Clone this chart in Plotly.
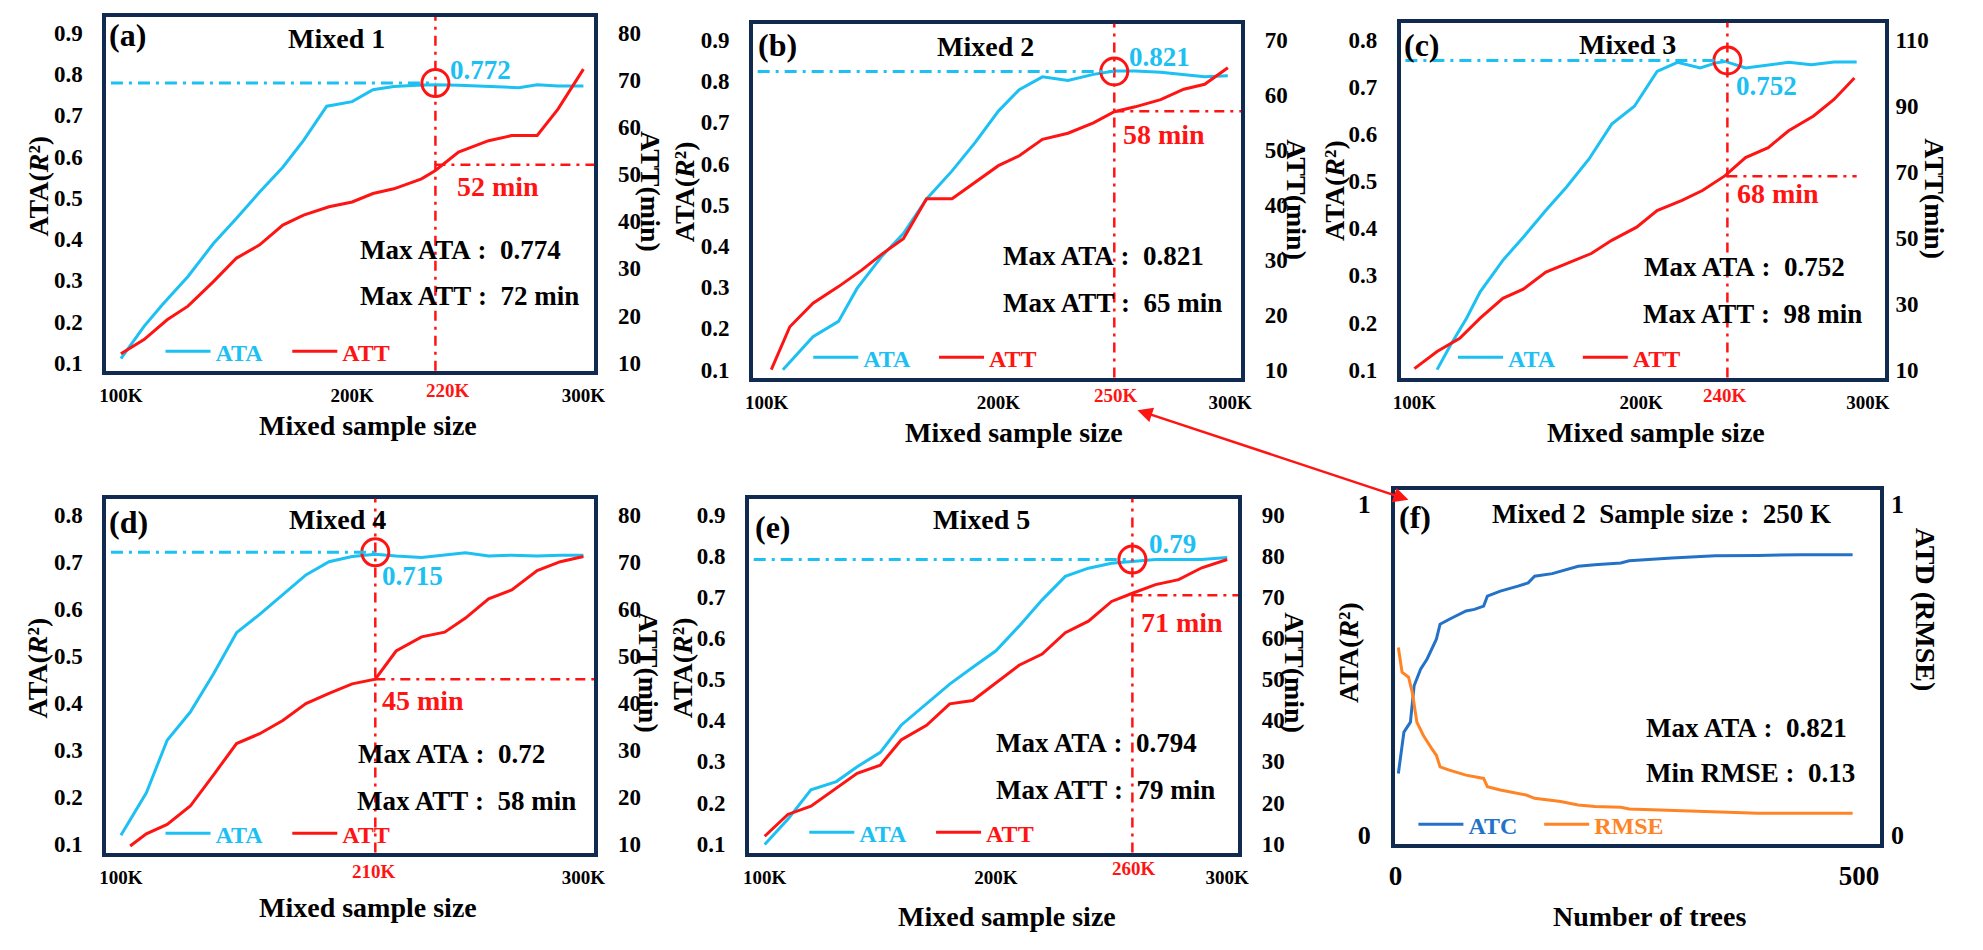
import plotly.graph_objects as go

# ---------------- data ----------------
PANEL_TAGS = ["(a)", "(b)", "(c)", "(d)", "(e)", "(f)"]
PANEL_TITLES = ["Mixed 1", "Mixed 2", "Mixed 3", "Mixed 4", "Mixed 5",
                "Mixed 2\u00a0\u00a0Sample size :\u00a0\u00a0250 K"]

# (a) Mixed 1
A_ATA_X = [100, 110, 118, 129, 140, 150, 160, 170, 179, 189, 192, 200, 209, 218, 228, 236, 246, 256, 267, 272, 280, 289, 300]
A_ATA = [0.110, 0.188, 0.241, 0.309, 0.389, 0.450, 0.514, 0.574, 0.639, 0.722, 0.725, 0.733, 0.762, 0.770, 0.773, 0.774, 0.773, 0.771, 0.767, 0.767, 0.774, 0.771, 0.771]
A_ATT_X = [100, 110, 120, 129, 140, 150, 160, 170, 179, 190, 200, 209, 218, 230, 236, 246, 259, 269, 280, 289, 300]
A_ATT = [11.9, 14.9, 19.1, 22.0, 27.2, 32.2, 35.0, 39.2, 41.3, 43.1, 44.1, 45.9, 46.9, 49.0, 50.8, 54.7, 57.1, 58.2, 58.2, 63.8, 72.3]

# (b) Mixed 2
B_ATA_X = [107, 120, 131, 139, 150, 159, 169, 180, 190, 200, 209, 219, 230, 241, 250, 259, 270, 280, 289, 299]
B_ATA = [0.100, 0.180, 0.217, 0.297, 0.377, 0.430, 0.514, 0.582, 0.651, 0.727, 0.779, 0.810, 0.801, 0.816, 0.824, 0.824, 0.821, 0.816, 0.810, 0.813]
B_ATT_X = [102, 110, 120, 131, 141, 150, 159, 169, 180, 190, 200, 209, 219, 230, 241, 250, 259, 270, 280, 289, 299]
B_ATT = [10.0, 17.8, 22.1, 25.1, 28.1, 31.1, 33.8, 41.1, 41.1, 44.1, 47.1, 48.9, 51.9, 53.0, 54.9, 56.9, 57.8, 59.1, 61.0, 61.9, 64.9]

# (c) Mixed 3
C_ATA_X = [110, 116, 123, 129, 139, 148, 158, 167, 177, 187, 197, 207, 216, 226, 233, 237, 246, 256, 265, 275, 285, 295]
C_ATA = [0.100, 0.153, 0.209, 0.265, 0.332, 0.381, 0.438, 0.487, 0.547, 0.621, 0.659, 0.733, 0.752, 0.740, 0.751, 0.754, 0.740, 0.747, 0.752, 0.747, 0.753, 0.753]
C_ATT_X = [100, 110, 120, 129, 139, 148, 158, 167, 178, 187, 198, 207, 218, 227, 237, 246, 256, 265, 276, 285, 294]
C_ATT = [10.3, 15.5, 19.5, 25.6, 31.6, 34.4, 39.6, 42.2, 45.2, 49.2, 53.2, 58.2, 61.3, 64.3, 68.8, 74.3, 77.3, 82.4, 86.9, 91.9, 98.4]

# (d) Mixed 4
D_ATA_X = [100, 111, 120, 130, 140, 150, 160, 170, 180, 190, 200, 210, 219, 230, 239, 249, 259, 269, 280, 290, 300]
D_ATA = [0.118, 0.208, 0.320, 0.380, 0.461, 0.549, 0.588, 0.630, 0.672, 0.700, 0.711, 0.716, 0.712, 0.709, 0.713, 0.719, 0.712, 0.714, 0.712, 0.714, 0.714]
D_ATT_X = [104, 111, 120, 130, 140, 150, 160, 170, 180, 190, 200, 210, 219, 230, 240, 249, 259, 269, 280, 290, 300]
D_ATT = [9.5, 12.1, 14.1, 18.0, 24.6, 31.3, 33.4, 36.2, 39.8, 42.0, 44.0, 45.0, 51.0, 54.0, 55.0, 58.0, 62.1, 64.0, 68.1, 70.0, 71.1]

# (e) Mixed 5
E_X = [100, 110, 120, 131, 140, 150, 159, 170, 180, 190, 200, 210, 220, 230, 240, 250, 259, 269, 279, 289, 300]
E_ATA = [0.098, 0.159, 0.231, 0.251, 0.287, 0.322, 0.388, 0.440, 0.488, 0.529, 0.569, 0.629, 0.693, 0.750, 0.770, 0.782, 0.787, 0.791, 0.791, 0.791, 0.796]
E_ATT = [11.8, 17.1, 19.1, 23.5, 27.1, 29.1, 35.2, 38.8, 44.0, 44.8, 49.2, 53.4, 56.1, 61.3, 64.1, 68.9, 70.9, 73.0, 74.2, 77.1, 79.1]

# (f) Mixed 2, 250 K samples, vs number of trees
F_ATC_X = [3, 9, 16, 20, 27, 34, 44, 48, 58, 76, 85, 95, 99, 113, 132, 143, 150, 169, 197, 215, 243, 252, 298, 345, 391, 437, 493]
F_ATC = [0.185, 0.310, 0.340, 0.450, 0.500, 0.531, 0.591, 0.636, 0.651, 0.676, 0.681, 0.691, 0.721, 0.736, 0.751, 0.761, 0.781, 0.789, 0.811, 0.816, 0.821, 0.828, 0.836, 0.843, 0.844, 0.846, 0.846]
F_RMSE_X = [3, 7, 14, 18, 23, 30, 39, 44, 48, 58, 76, 95, 99, 113, 141, 150, 178, 197, 215, 243, 252, 298, 345, 391, 493]
F_RMSE = [0.566, 0.491, 0.476, 0.430, 0.340, 0.300, 0.260, 0.240, 0.205, 0.195, 0.180, 0.170, 0.145, 0.135, 0.120, 0.110, 0.100, 0.090, 0.085, 0.083, 0.078, 0.073, 0.070, 0.065, 0.065]

# optimum markers (panels a-e)
OPT_SIZE = [236, 250, 238, 210, 259]
OPT_SIZE_LABEL = ["220K", "250K", "240K", "210K", "260K"]
OPT_ATA = [0.778, 0.823, 0.756, 0.720, 0.791]
OPT_ATA_LABEL = ["0.772", "0.821", "0.752", "0.715", "0.79"]
OPT_ATT = [52.0, 57.0, 68.6, 45.0, 70.4]
OPT_ATT_LABEL = ["52 min", "58 min", "68 min", "45 min", "71 min"]
ATT_LINE_END = [None, None, 295, None, None]

MAX_ATA_LABEL = ["0.774", "0.821", "0.752", "0.72", "0.794", "0.821"]
MAX_ATT_LABEL = ["72 min", "65 min", "98 min", "58 min", "79 min"]
MIN_RMSE_LABEL = "0.13"

# tick labels
X_TICKS = [[100, 200, 300], [100, 200, 300], [100, 200, 300], [100, 300], [100, 200, 300], [0, 500]]
X_TICK_TEXT = [["100K", "200K", "300K"], ["100K", "200K", "300K"], ["100K", "200K", "300K"],
               ["100K", "300K"], ["100K", "200K", "300K"], ["0", "500"]]
YL_TICKS = [[0.1, 0.2, 0.3, 0.4, 0.5, 0.6, 0.7, 0.8, 0.9],
            [0.1, 0.2, 0.3, 0.4, 0.5, 0.6, 0.7, 0.8, 0.9],
            [0.1, 0.2, 0.3, 0.4, 0.5, 0.6, 0.7, 0.8],
            [0.1, 0.2, 0.3, 0.4, 0.5, 0.6, 0.7, 0.8],
            [0.1, 0.2, 0.3, 0.4, 0.5, 0.6, 0.7, 0.8, 0.9],
            [0, 1]]
YR_TICKS = [[10, 20, 30, 40, 50, 60, 70, 80],
            [10, 20, 30, 40, 50, 60, 70],
            [10, 30, 50, 70, 90, 110],
            [10, 20, 30, 40, 50, 60, 70, 80],
            [10, 20, 30, 40, 50, 60, 70, 80, 90],
            [0, 1]]

# ---------------- styling / layout (pixels of the 1983x950 page) ----------------
W, H = 1983, 950
FONT = "Liberation Serif"
NAVY = "#112B50"
CYAN = "#1CC0F2"
RED = "#FF1414"
BLUE = "#2472C8"
ORANGE = "#FF8426"

BOXES = [(99, 592, 17, 373), (752, 1245, 24, 380), (1406, 1895, 23, 380),
         (99, 592, 502, 858), (748, 1242, 502, 858), (1400, 1890, 493, 849)]
X_CAL = [(114, 581), (766, 1234), (1420, 1878), (114, 581), (764, 1231), (1401, 1869)]
Y_CAL = [(365, 33), (372, 40), (372, 40), (849, 518), (849, 518), (840, 507)]
YR_GAP = [18, 18, 5, 18, 18, 5]
# legend text start (series 1, series 2) and centre y
LEG_TEXT = [(215, 343, 354), (869, 996, 360), (1520, 1646, 360),
            (215, 343, 839), (865, 993, 838), (1480, 1607, 830)]
ITEMW = 45

SERIES = [
    (A_ATA_X, A_ATA, A_ATT_X, A_ATT),
    (B_ATA_X, B_ATA, B_ATT_X, B_ATT),
    (C_ATA_X, C_ATA, C_ATT_X, C_ATT),
    (D_ATA_X, D_ATA, D_ATT_X, D_ATT),
    (E_X, E_ATA, E_X, E_ATT),
    (F_ATC_X, F_ATC, F_RMSE_X, F_RMSE),
]
SERIES_NAMES = [("ATA", "ATT")] * 5 + [("ATC", "RMSE")]
SERIES_COLORS = [(CYAN, RED)] * 5 + [(BLUE, ORANGE)]


def lin_range(p_lo, p_hi, v1, p1, v2, p2):
    s = (v2 - v1) / (p2 - p1)
    return [v1 + (p_lo - p1) * s, v1 + (p_hi - p1) * s]


def font(size, color="black"):
    return dict(family=FONT, size=size, color=color, weight="bold")


def ann(x, y, text, size=27, color="black", xanchor="center", angle=0):
    return dict(x=x / W, y=1 - y / H, xref="paper", yref="paper", text=text,
                showarrow=False, font=font(size, color), xanchor=xanchor,
                yanchor="middle", textangle=angle)


def legend_box(text_x, y, color):
    return dict(x=(text_x - ITEMW - 16) / W, y=1 - y / H, xanchor="left", yanchor="middle",
                orientation="h", bgcolor="rgba(0,0,0,0)", font=font(24, color),
                itemwidth=ITEMW, tracegroupgap=0)


fig = go.Figure()
layout = dict(width=W, height=H, margin=dict(l=0, r=0, t=0, b=0),
              paper_bgcolor="white", plot_bgcolor="white",
              font=font(20), showlegend=True)
shapes, annotations = [], []

for i in range(6):
    L, R, T, B = BOXES[i]
    xid = "x" if i == 0 else f"x{i + 1}"
    yl_n, yr_n = 2 * i + 1, 2 * i + 2
    ylid = "y" if yl_n == 1 else f"y{yl_n}"
    yrid = f"y{yr_n}"
    lid1 = "legend" if i == 0 else f"legend{2 * i + 1}"
    lid2 = f"legend{2 * i + 2}"
    xkey = "xaxis" if i == 0 else f"xaxis{i + 1}"
    ylkey = "yaxis" if yl_n == 1 else f"yaxis{yl_n}"
    yrkey = f"yaxis{yr_n}"

    xr = lin_range(L, R, X_TICKS[i][0], X_CAL[i][0], X_TICKS[i][-1], X_CAL[i][1])
    ylr = lin_range(B, T, YL_TICKS[i][0], Y_CAL[i][0], YL_TICKS[i][-1], Y_CAL[i][1])
    yrr = lin_range(B, T, YR_TICKS[i][0], Y_CAL[i][0], YR_TICKS[i][-1], Y_CAL[i][1])

    xfs = 27 if i == 5 else 19
    yfs = 26 if i == 5 else 23
    layout[xkey] = dict(domain=[L / W, R / W], anchor=ylid, range=xr, tickvals=X_TICKS[i],
                        ticktext=X_TICK_TEXT[i], showline=True, mirror=True, linecolor=NAVY,
                        linewidth=3.5, showgrid=False, zeroline=False, ticks="outside",
                        ticklen=5, tickcolor="rgba(0,0,0,0)", tickfont=font(xfs))
    layout[ylkey] = dict(domain=[1 - B / H, 1 - T / H], anchor=xid, range=ylr,
                         tickvals=YL_TICKS[i], tickformat="d" if i == 5 else ".1f",
                         showline=True, mirror=True, linecolor=NAVY, linewidth=3.5,
                         showgrid=False, zeroline=False, ticks="outside", ticklen=15,
                         tickcolor="rgba(0,0,0,0)", tickfont=font(yfs))
    layout[yrkey] = dict(overlaying=ylid, side="right", anchor=xid, range=yrr,
                         tickvals=YR_TICKS[i], tickformat="d", showline=False,
                         showgrid=False, zeroline=False, ticks="outside", ticklen=YR_GAP[i],
                         tickcolor="rgba(0,0,0,0)", tickfont=font(yfs))

    x1, y1, x2, y2 = SERIES[i]
    n1, n2 = SERIES_NAMES[i]
    c1, c2 = SERIES_COLORS[i]
    fig.add_trace(go.Scatter(x=x1, y=y1, xaxis=xid, yaxis=ylid, mode="lines",
                             line=dict(color=c1, width=3), legend=lid1, name=n1))
    fig.add_trace(go.Scatter(x=x2, y=y2, xaxis=xid, yaxis=yrid, mode="lines",
                             line=dict(color=c2, width=3), legend=lid2, name=n2))

    t1, t2, ly = LEG_TEXT[i]
    layout[lid1] = legend_box(t1, ly, c1)
    layout[lid2] = legend_box(t2, ly, c2)

    # panel tag and title
    tag_pos = [(100, 35), (755, 45), (1407, 45), (100, 525), (752, 530), (1402, 520)][i]
    title_pos = [(332, 39), (987, 47), (1635, 45), (333, 523), (983, 523), (1670, 517)][i]
    annotations.append(ann(tag_pos[0], tag_pos[1], PANEL_TAGS[i], 32, xanchor="left"))
    annotations.append(ann(title_pos[0], title_pos[1], PANEL_TITLES[i], 28 if i < 5 else 27))

    # axis titles
    xt_pos = [(363, 428), (1016, 435), (1664, 435), (363, 913), (1009, 922), (1657, 922)][i]
    yl_pos = [(31, 187), (683, 193), (1340, 192), (30, 672), (681, 672), (1354, 657)][i]
    yr_pos = [(648, 193), (1301, 201), (1945, 200), (646, 677), (1299, 677), (1936, 614)][i]
    annotations.append(ann(xt_pos[0], xt_pos[1],
                           "Number of trees" if i == 5 else "Mixed sample size", 28))
    annotations.append(ann(yl_pos[0], yl_pos[1], "ATA(<i>R</i>\u00b2)", 28, angle=-90))
    annotations.append(ann(yr_pos[0], yr_pos[1], "ATD (RMSE)" if i == 5 else "ATT(min)", 28, angle=90))

    # max text
    m1 = [(353, 252), (1003, 258), (1650, 269), (351, 759), (996, 748), (1652, 733)][i]
    m2 = [(353, 298), (1003, 305), (1649, 316), (350, 806), (996, 795), (1652, 778)][i]
    annotations.append(ann(m1[0], m1[1], f"Max ATA\u00a0:\u00a0\u00a0{MAX_ATA_LABEL[i]}", 27, xanchor="left"))
    if i < 5:
        annotations.append(ann(m2[0], m2[1], f"Max ATT\u00a0:\u00a0\u00a0{MAX_ATT_LABEL[i]}", 27, xanchor="left"))
    else:
        annotations.append(ann(m2[0], m2[1], f"Min RMSE\u00a0:\u00a0\u00a0{MIN_RMSE_LABEL}", 27, xanchor="left"))

    if i < 5:
        ox, oa, ot = OPT_SIZE[i], OPT_ATA[i], OPT_ATT[i]
        dash_c = "12px,6px,3px,6px"
        dash_r = "10px,6px,3px,6px"
        shapes.append(dict(type="line", xref=xid, yref=f"{ylid} domain", x0=ox, x1=ox, y0=0, y1=1,
                           line=dict(color=RED, width=2.5, dash=dash_r)))
        shapes.append(dict(type="line", xref=xid, yref=ylid, x0=xr[0] + (xr[1] - xr[0]) * 0.01,
                           x1=ox, y0=oa, y1=oa, line=dict(color=CYAN, width=3, dash=dash_c)))
        xend = ATT_LINE_END[i] if ATT_LINE_END[i] is not None else xr[1]
        shapes.append(dict(type="line", xref=xid, yref=yrid, x0=ox, x1=xend, y0=ot, y1=ot,
                           line=dict(color=RED, width=2.5, dash=dash_r)))
        fig.add_trace(go.Scatter(x=[ox], y=[oa], xaxis=xid, yaxis=ylid, mode="markers",
                                 marker=dict(symbol="circle-open", size=27, color=RED,
                                             line=dict(width=3, color=RED)),
                                 showlegend=False, hoverinfo="skip"))
        lab_a = [(444, 70), (1130, 57), (1743, 87), (376, 580), (1150, 547)][i]
        lab_t = [(451, 188), (1124, 135), (1744, 195), (376, 705), (1142, 626)][i]
        annotations.append(ann(lab_a[0], lab_a[1], OPT_ATA_LABEL[i], 27, CYAN, xanchor="left"))
        annotations.append(ann(lab_t[0], lab_t[1], OPT_ATT_LABEL[i], 28, RED, xanchor="left"))
        xshift = [13, 2, -2, -1, 2][i]
        tick_y = [393, 398, 398, 877, 874][i]
        annotations.append(dict(x=ox, xref=xid, y=1 - tick_y / H, yref="paper",
                                text=OPT_SIZE_LABEL[i], showarrow=False, xshift=xshift,
                                font=font(19, RED), xanchor="center", yanchor="middle"))

# double-headed arrow linking (b) 250K to panel (f)
annotations.append(dict(x=1414 / W, y=1 - 503 / H, xref="paper", yref="paper", text=" ",
                        showarrow=True, ax=-275, ay=-91, arrowhead=2, startarrowhead=2,
                        arrowside="end+start", arrowsize=1.2, startarrowsize=1.2,
                        arrowwidth=2.5, arrowcolor=RED, standoff=0, startstandoff=0))

layout["shapes"] = shapes
layout["annotations"] = annotations
fig.update_layout(**layout)
fig.write_html("out.html")
